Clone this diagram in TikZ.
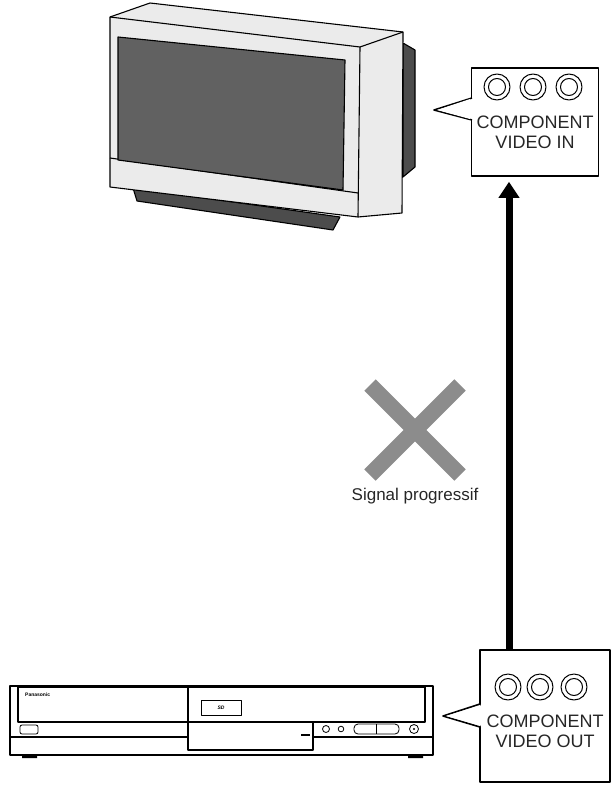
\documentclass[tikz,border=0pt]{standalone}
\usepackage{fontspec}
\setmainfont{Liberation Sans}
\usetikzlibrary{arrows.meta}
\begin{document}
\begin{tikzpicture}[x=1pt,y=-1pt,line join=round,
  ol/.style={draw=black,line width=1.1pt},
  callout/.style={draw=black,line width=1.6pt,fill=white},
  lbl/.style={font=\fontsize{18}{20}\selectfont,align=center,text=black!85}]
\useasboundingbox (0,0) rectangle (615,787);
% TV
\fill[black!70,ol] (133,188) -- (137,201) -- (333,230) -- (340,217) -- cycle;
\fill[black!70,ol] (403,43) -- (415,50) -- (415,167) -- (403,177) -- cycle;
\filldraw[fill=black!8,ol] (110,17) -- (150,3) -- (403,32) -- (402,213) -- (358,217) -- (110,187) -- cycle;
\draw[ol] (110,17) -- (360,47) -- (403,32);
\draw[ol] (360,47) -- (358,217);
\draw[ol] (110,158) -- (358,193);
\filldraw[fill=black!62,ol] (118,37) -- (345,60) -- (343,190) -- (118,160) -- cycle;
% player
\fill[black] (22,754) rectangle (37,758) (408,754) rectangle (423,758);
\draw[ol,fill=white] (10,686) rectangle (433,755);
\draw[ol] (18,687) rectangle (425,722);
\draw[ol] (188,687) -- (188,722);
\draw[ol] (10,737) -- (188,737);
\draw[ol] (313,737) -- (433,737);
\draw[ol] (188,722) rectangle (313,750);
\draw[line width=0.8pt] (201,700) rectangle (241,715);
\node[font=\tiny\itshape\bfseries,inner sep=0] (sd) at (221,708) {SD};
\node[font=\fontsize{5}{5}\selectfont\bfseries,anchor=west,inner sep=0] (brand) at (25,695) {Panasonic};
\draw[line width=0.8pt,rounded corners=2pt] (20,725) rectangle (38,734);
\draw[line width=0.8pt] (326,729) circle (3.5) (341,729) circle (2.8);
\draw[line width=0.8pt,rounded corners=4pt] (354,724) rectangle (399,734);
\draw[line width=0.8pt] (376,724) -- (376,734);
\draw[line width=0.8pt] (414,729) circle (4.5);
\fill (414,729) circle (1.2);
\fill (301,734) rectangle (310,736);
% cross
\draw[black!45,line width=16pt] (370,385) -- (460,475) (460,385) -- (370,475);
\node[lbl,font=\fontsize{17}{18}\selectfont] (sig) at (415,496) {Signal progressif};
% top callout
\node[callout,minimum width=127pt,minimum height=108pt,inner sep=0] (bin) at (535,122) {};
\draw[callout] (472,98) -- (434,110) -- (472,120);
\fill[white] (470,99) -- (437,110) -- (470,119) -- cycle;
\foreach \x in {497,533,569}{\draw[line width=1pt] (\x,87) circle (13) circle (8.5);}
\node[lbl] (tin) at (535,132) {COMPONENT\\VIDEO IN};
% bottom callout
\node[callout,minimum width=130pt,minimum height=132pt,inner sep=0] (bout) at (545,716) {};
\draw[callout] (480,704) -- (443,716) -- (480,727);
\fill[white] (482,705) -- (446,716) -- (482,726) -- cycle;
\foreach \x in {508,540,574}{\draw[line width=1pt] (\x,687) circle (13) circle (8.5);}
\node[lbl] (tout) at (545,731) {COMPONENT\\VIDEO OUT};
% arrow
\draw[line width=7pt,-{Triangle[width=20pt,length=16pt]}] ([xshift=-36pt]bout.north) -- ([xshift=-26pt,yshift=-5pt]bin.south);
\end{tikzpicture}
\end{document}
